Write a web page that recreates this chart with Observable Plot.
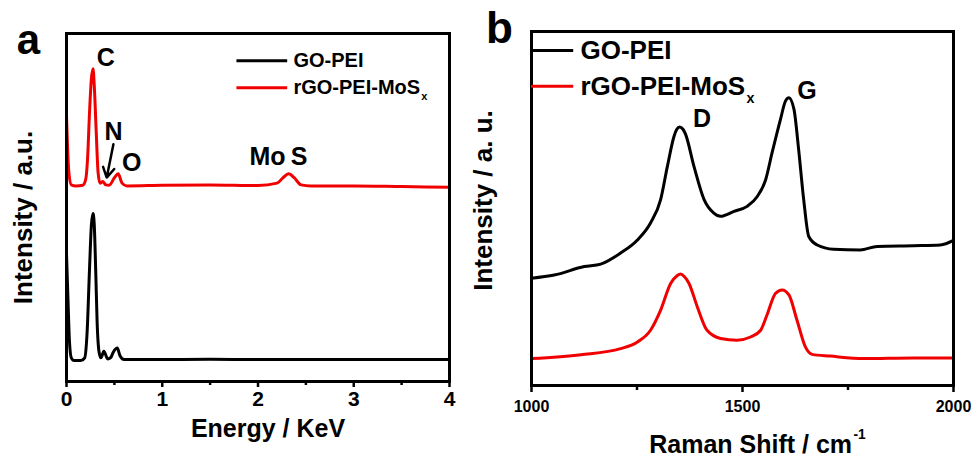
<!DOCTYPE html>
<html>
<head>
<meta charset="utf-8">
<script src="https://cdn.jsdelivr.net/npm/d3@7"></script>
<script src="https://cdn.jsdelivr.net/npm/@observablehq/plot@0.6"></script>
<style>
  html, body { margin: 0; padding: 0; background: #fff; }
  #wrap { position: relative; width: 975px; height: 457px; overflow: hidden; }
  #wrap svg { position: absolute; top: 0; }
</style>
</head>
<body>
<div id="wrap"></div>
<script>
// ---------- data ----------
const seriesNames = ["GO-PEI", "rGO-PEI-MoS_{x}"];
const seriesColors = ["#000000", "#f00000"];

// Panel a: EDS spectra (Energy / KeV vs intensity, a.u.)
const edsGoPeiE = [0, 0.015, 0.03, 0.05, 0.08, 0.15, 0.19, 0.215, 0.24, 0.26, 0.277, 0.29, 0.305, 0.32, 0.34, 0.36, 0.39, 0.43, 0.46, 0.49, 0.53, 0.56, 0.6, 0.9, 1.5, 2.0, 2.5, 3.0, 3.5, 4.0];
const edsGoPeiI = [36.8, 24, 12, 6.8, 6.0, 6.0, 6.8, 14, 32, 45, 48.3, 45, 32, 17, 8.5, 6.8, 8.7, 6.5, 6.8, 8.5, 9.6, 7.3, 6.3, 6.3, 6.4, 6.3, 6.3, 6.3, 6.3, 6.3];
const edsRgoE = [0, 0.01, 0.025, 0.05, 0.1, 0.17, 0.2, 0.22, 0.24, 0.26, 0.277, 0.29, 0.31, 0.33, 0.35, 0.38, 0.41, 0.445, 0.5, 0.54, 0.58, 0.63, 1.0, 1.5, 2.0, 2.2, 2.26, 2.32, 2.38, 2.45, 2.55, 3.0, 3.5, 4.0];
const edsRgoI = [76.4, 68, 60, 56.5, 56.2, 56.4, 58, 64, 77, 87, 89.9, 85, 72, 60, 57, 57.5, 56.5, 56.4, 58.5, 59.7, 57, 56.2, 56.4, 56.5, 56.3, 57, 58.5, 59.7, 58.5, 56.5, 56.2, 56.2, 56, 55.8];
const edsTicks = [0, 1, 2, 3, 4];
const edsMinorTicks = [0.5, 1.5, 2.5, 3.5];
const edsPeakLabels = ["C", "N", "O", "Mo", "S"];
const edsPeakLabelE = [0.41, 0.49, 0.68, 2.10, 2.43];
const edsPeakLabelI = [93.1, 71.6, 62.9, 64.5, 64.5];

// Panel b: Raman spectra (Raman shift / cm-1 vs intensity, a.u.)
const ramanGoPeiX = [1000, 1054, 1125, 1164, 1211, 1251, 1282, 1306, 1322, 1338, 1344, 1351, 1359, 1365, 1385, 1409, 1432, 1448, 1480, 1511, 1535, 1555, 1570, 1590, 1602, 1610, 1622, 1633, 1645, 1657, 1677, 1716, 1779, 1819, 1905, 1969, 2000];
const ramanGoPeiI = [30.3, 31.2, 33.6, 34.3, 37.4, 41.1, 45.9, 52.5, 61.9, 70.5, 72.3, 73.0, 72.4, 71.0, 61.9, 52.5, 48.7, 47.8, 49.2, 50.6, 53.4, 58.2, 65.7, 75.2, 80.4, 81.3, 78.0, 66.7, 52.5, 42.1, 39.7, 38.5, 38.3, 39.3, 39.5, 39.7, 41.0];
const ramanRgoX = [1000, 1117, 1211, 1251, 1282, 1306, 1330, 1345, 1353, 1362, 1373, 1393, 1416, 1448, 1487, 1519, 1543, 1558, 1578, 1594, 1610, 1629, 1649, 1665, 1708, 1787, 1905, 2000];
const ramanRgoI = [7.6, 8.7, 10.4, 12.3, 15.6, 21.3, 28.9, 31.0, 31.5, 30.8, 28.9, 22.2, 15.6, 13.3, 12.8, 13.7, 15.6, 19.9, 26.0, 27.0, 25.6, 18.5, 10.9, 8.8, 8.3, 7.6, 7.8, 7.8];
const ramanTicks = [1000, 1500, 2000];
const ramanMinorTicks = [1250, 1750];
const ramanPeakLabels = ["D", "G"];
const ramanPeakLabelX = [1404, 1653];
const ramanPeakLabelI = [75.3, 83.1];

// ---------- build tables ----------
const toRows = (xs, ys, s) => xs.map((x, i) => ({x, y: ys[i], s}));
const edsRows = [
  ...toRows(edsGoPeiE, edsGoPeiI, seriesNames[0]),
  ...toRows(edsRgoE, edsRgoI, seriesNames[1])
];
const ramanRows = [
  ...toRows(ramanGoPeiX, ramanGoPeiI, seriesNames[0]),
  ...toRows(ramanRgoX, ramanRgoI, seriesNames[1])
];
const color = {domain: seriesNames, range: seriesColors};
const FONT = "'Liberation Sans', Arial, Helvetica, sans-serif";
const C = {textAnchor: "middle", lineAnchor: "middle", fontWeight: "bold"};

// ---------- panel a ----------
const edsLegend = seriesNames.map((s, i) => ({s, x1: 1.78, x2: 2.31, y: [92.2, 84.4][i], tx: 2.37}));
const edsLabelRows = edsPeakLabels.map((t, i) => ({t, x: edsPeakLabelE[i], y: edsPeakLabelI[i]}));

const plotA = Plot.plot({
  width: 480, height: 457,
  marginLeft: 66, marginRight: 31, marginTop: 33, marginBottom: 76,
  style: {fontFamily: FONT, fontWeight: "bold", color: "#000", background: "transparent", overflow: "visible"},
  x: {domain: [0, 4]},
  y: {domain: [0, 100], axis: null},
  color,
  marks: [
    Plot.axisX(edsMinorTicks, {tickSize: 4, text: null, strokeWidth: 2.5}),
    Plot.axisX(edsTicks, {tickSize: 6, tickPadding: 4, strokeWidth: 2.5, fontSize: 21, fontWeight: "bold", label: null, tickFormat: d => String(d)}),
    Plot.line(edsRows, {x: "x", y: "y", z: "s", stroke: "s", strokeWidth: 3, curve: "monotone-x"}),
    Plot.frame({stroke: "#000", strokeWidth: 3}),
    Plot.text(edsLabelRows, {x: "x", y: "y", text: "t", fontSize: 25, ...C}),
    Plot.arrow([{x1: 0.49, y1: 68.2, x2: 0.42, y2: 58.6}], {x1: "x1", y1: "y1", x2: "x2", y2: "y2", stroke: "#000", strokeWidth: 2.5, headLength: 9}),
    Plot.ruleY(edsLegend, {x1: "x1", x2: "x2", y: "y", stroke: "s", strokeWidth: 3}),
    Plot.text(edsLegend, {x: "tx", y: "y", text: "s", textAnchor: "start", lineAnchor: "middle", fontSize: 20, fontWeight: "bold"}),
    Plot.text(["a"], {frameAnchor: "top-left", dx: -38, dy: 7, fontSize: 42, ...C}),
    Plot.text(["Energy / KeV"], {frameAnchor: "bottom", dx: 10, dy: 47, fontSize: 25, ...C}),
    Plot.text(["Intensity / a.u."], {frameAnchor: "left", dx: -43, dy: 10, rotate: -90, fontSize: 26, ...C})
  ]
});

// ---------- panel b ----------
const ramanLegend = seriesNames.map((s, i) => ({s, x1: 1000, x2: 1100, y: [94.6, 84.5][i], tx: 1116}));
const ramanLabelRows = ramanPeakLabels.map((t, i) => ({t, x: ramanPeakLabelX[i], y: ramanPeakLabelI[i]}));

const plotB = Plot.plot({
  width: 495, height: 457,
  marginLeft: 51, marginRight: 22, marginTop: 31, marginBottom: 72,
  style: {fontFamily: FONT, fontWeight: "bold", color: "#000", background: "transparent", overflow: "visible"},
  x: {domain: [1000, 2000]},
  y: {domain: [0, 100], axis: null},
  color,
  marks: [
    Plot.axisX(ramanMinorTicks, {tickSize: 5, text: null, strokeWidth: 2.5}),
    Plot.axisX(ramanTicks, {tickSize: 7, tickPadding: 8, strokeWidth: 2.5, fontSize: 16, fontWeight: "bold", label: null, tickFormat: d => String(d)}),
    Plot.line(ramanRows, {x: "x", y: "y", z: "s", stroke: "s", strokeWidth: 3, curve: "monotone-x"}),
    Plot.frame({stroke: "#000", strokeWidth: 3}),
    Plot.text(ramanLabelRows, {x: "x", y: "y", text: "t", fontSize: 25, ...C}),
    Plot.ruleY(ramanLegend, {x1: "x1", x2: "x2", y: "y", stroke: "s", strokeWidth: 3}),
    Plot.text(ramanLegend, {x: "tx", y: "y", text: "s", textAnchor: "start", lineAnchor: "middle", fontSize: 26, fontWeight: "bold"}),
    Plot.text(["b"], {frameAnchor: "top-left", dx: -32, dy: -3, fontSize: 44, ...C}),
    Plot.text(["Raman Shift / cm^{-1}"], {frameAnchor: "bottom", dx: 15, dy: 59, fontSize: 25, ...C}),
    Plot.text(["Intensity / a. u."], {frameAnchor: "left", dx: -48, dy: -8, rotate: -90, fontSize: 26, ...C})
  ]
});

const wrap = document.getElementById("wrap");
plotA.style.left = "0px";
plotB.style.left = "480px";
wrap.appendChild(plotA);
wrap.appendChild(plotB);

// sub/superscript markup: "_{...}" and "^{...}"
for (const t of wrap.querySelectorAll("text")) {
  const target = t.querySelector("tspan") && t.querySelectorAll("tspan").length === 1 ? t.querySelector("tspan") : t;
  const s = target.textContent;
  const m = s.match(/^(.*)([_^])\{(.+)\}$/);
  if (!m) continue;
  target.textContent = m[1];
  const ts = document.createElementNS("http://www.w3.org/2000/svg", "tspan");
  ts.setAttribute("font-size", "0.55em");
  ts.setAttribute("dy", m[2] === "_" ? "0.55em" : "-0.95em");
  ts.setAttribute("dx", "0.1em");
  ts.textContent = m[3];
  target.appendChild(ts);
}
</script>
</body>
</html>
